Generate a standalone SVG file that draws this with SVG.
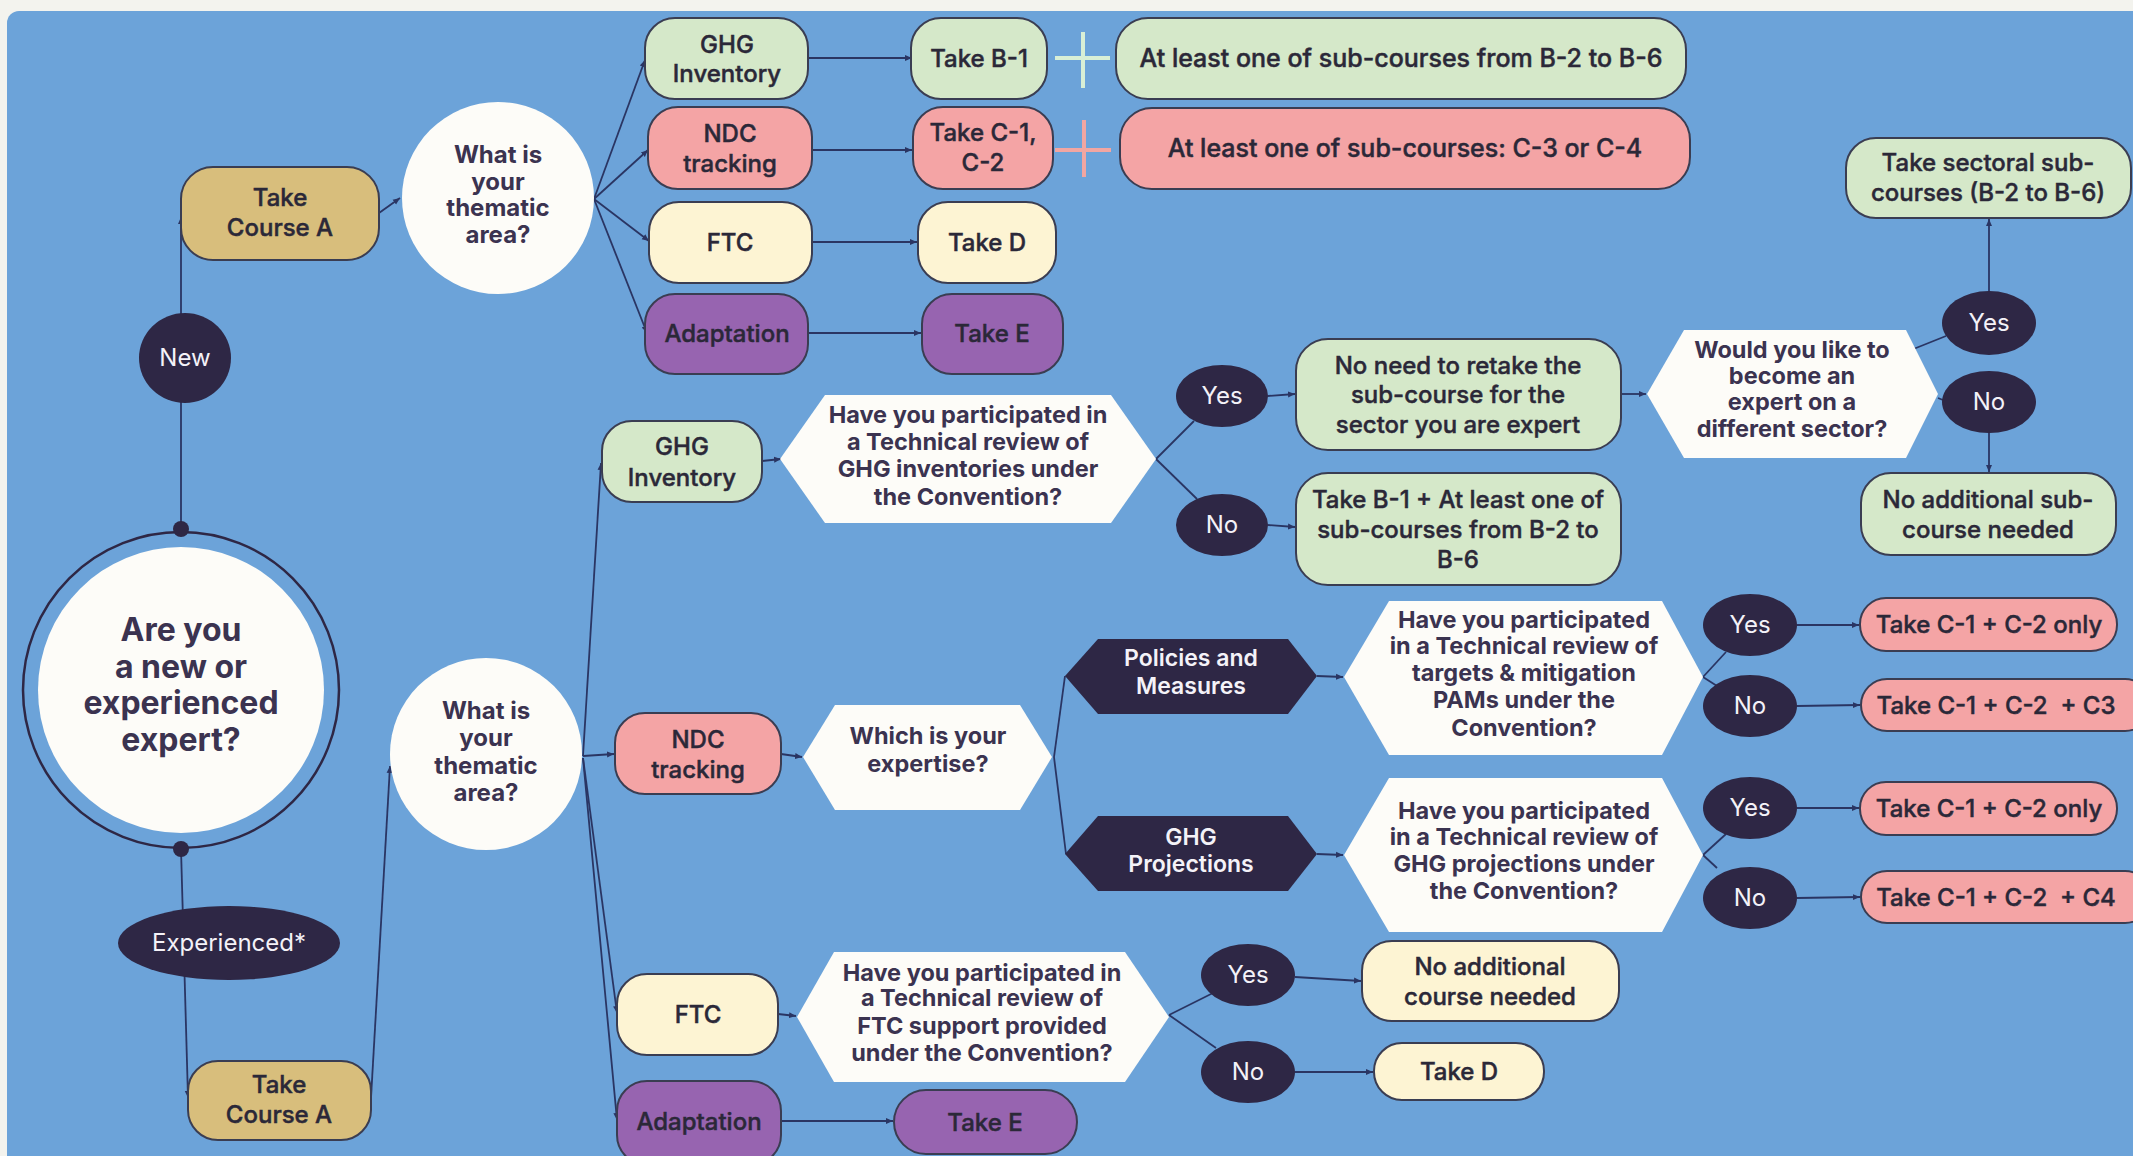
<svg xmlns="http://www.w3.org/2000/svg" width="2133" height="1156" viewBox="0 0 2133 1156">
<defs>
<style>
.box{stroke:#3a3d52;stroke-width:2}
.g{fill:#d5e8c9}.p{fill:#f4a4a5}.y{fill:#fdf4d3}.v{fill:#9764b0}.t{fill:#d8be7c}
.dk{fill:#2e2745}.wh{fill:#fdfcf8}
.lbl{font-family:Inter,"Liberation Sans",sans-serif;font-size:24px;font-weight:500;fill:#2b2838;stroke:#2b2838;stroke-width:0.45;text-anchor:middle}
.q{font-family:Inter,"Liberation Sans",sans-serif;font-size:23.5px;font-weight:700;fill:#3b3350;text-anchor:middle}
.big{font-family:Inter,"Liberation Sans",sans-serif;font-size:32px;font-weight:700;fill:#3b3350;text-anchor:middle}
.cq{font-family:Inter,"Liberation Sans",sans-serif;font-size:24px;font-weight:700;fill:#3b3350;text-anchor:middle}
.wt{font-family:Inter,"Liberation Sans",sans-serif;font-size:24px;font-weight:400;fill:#f4f2f8;text-anchor:middle}
.wb{font-family:Inter,"Liberation Sans",sans-serif;font-size:23px;font-weight:600;fill:#f4f2f8;text-anchor:middle}
.con{stroke:#2a3563;stroke-width:1.8;fill:none}
</style>
<marker id="arr" markerWidth="8" markerHeight="8" refX="7" refY="4" orient="auto" markerUnits="userSpaceOnUse"><path d="M0,1 L7,4 L0,7 z" fill="#2a3563"/></marker>
</defs>
<rect x="0" y="0" width="2133" height="1156" fill="#f3f3ee"/>
<rect x="7" y="11" width="2160" height="1180" rx="12" fill="#6ca3d9"/>

<g id="connectors">
<line class="con" x1="181" y1="528" x2="181" y2="217" marker-end="url(#arr)"/>
<line class="con" x1="379" y1="213" x2="400" y2="198" marker-end="url(#arr)"/>
<line class="con" x1="594" y1="199" x2="645" y2="60" marker-end="url(#arr)"/>
<line class="con" x1="594" y1="199" x2="648" y2="150" marker-end="url(#arr)"/>
<line class="con" x1="594" y1="199" x2="649" y2="241" marker-end="url(#arr)"/>
<line class="con" x1="594" y1="199" x2="647" y2="333" marker-end="url(#arr)"/>
<line class="con" x1="809" y1="58" x2="912" y2="58" marker-end="url(#arr)"/>
<line class="con" x1="812" y1="150" x2="912" y2="150" marker-end="url(#arr)"/>
<line class="con" x1="812" y1="242" x2="917" y2="242" marker-end="url(#arr)"/>
<line class="con" x1="809" y1="333" x2="921" y2="333" marker-end="url(#arr)"/>
<line class="con" x1="181" y1="849" x2="188" y2="1098" marker-end="url(#arr)"/>
<line class="con" x1="371" y1="1098" x2="390" y2="766" marker-end="url(#arr)"/>
<line class="con" x1="583" y1="756" x2="601" y2="463" marker-end="url(#arr)"/>
<line class="con" x1="583" y1="756" x2="614" y2="754" marker-end="url(#arr)"/>
<line class="con" x1="583" y1="758" x2="617" y2="1013" marker-end="url(#arr)"/>
<line class="con" x1="583" y1="758" x2="617" y2="1120" marker-end="url(#arr)"/>
<line class="con" x1="762" y1="461" x2="781" y2="459" marker-end="url(#arr)"/>
<line class="con" x1="1156" y1="459" x2="1194" y2="421"/>
<line class="con" x1="1156" y1="459" x2="1197" y2="499"/>
<line class="con" x1="1268" y1="396" x2="1295" y2="394" marker-end="url(#arr)"/>
<line class="con" x1="1268" y1="525" x2="1295" y2="527" marker-end="url(#arr)"/>
<line class="con" x1="1621" y1="394" x2="1646" y2="394" marker-end="url(#arr)"/>
<line class="con" x1="1906" y1="352" x2="1946" y2="336"/>
<line class="con" x1="1938" y1="398" x2="1943" y2="400"/>
<line class="con" x1="1989" y1="291" x2="1989" y2="219" marker-end="url(#arr)"/>
<line class="con" x1="1989" y1="433" x2="1989" y2="472" marker-end="url(#arr)"/>
<line class="con" x1="781" y1="754" x2="802" y2="757" marker-end="url(#arr)"/>
<line class="con" x1="1054" y1="757" x2="1065" y2="676"/>
<line class="con" x1="1054" y1="757" x2="1066" y2="854"/>
<line class="con" x1="1317" y1="676" x2="1343" y2="677" marker-end="url(#arr)"/>
<line class="con" x1="1317" y1="854" x2="1343" y2="855" marker-end="url(#arr)"/>
<line class="con" x1="1703" y1="677" x2="1726" y2="652"/>
<line class="con" x1="1703" y1="677" x2="1717" y2="686"/>
<line class="con" x1="1703" y1="855" x2="1726" y2="834"/>
<line class="con" x1="1703" y1="855" x2="1717" y2="868"/>
<line class="con" x1="1797" y1="625" x2="1859" y2="625" marker-end="url(#arr)"/>
<line class="con" x1="1797" y1="706" x2="1860" y2="705" marker-end="url(#arr)"/>
<line class="con" x1="1797" y1="808" x2="1859" y2="808" marker-end="url(#arr)"/>
<line class="con" x1="1797" y1="898" x2="1860" y2="897" marker-end="url(#arr)"/>
<line class="con" x1="778" y1="1014" x2="796" y2="1016" marker-end="url(#arr)"/>
<line class="con" x1="1169" y1="1015" x2="1213" y2="993"/>
<line class="con" x1="1169" y1="1015" x2="1216" y2="1048"/>
<line class="con" x1="1295" y1="977" x2="1361" y2="981" marker-end="url(#arr)"/>
<line class="con" x1="1295" y1="1072" x2="1373" y2="1072" marker-end="url(#arr)"/>
<line class="con" x1="781" y1="1121" x2="893" y2="1121" marker-end="url(#arr)"/>
</g>

<g id="start">
<circle cx="181" cy="690" r="158" fill="none" stroke="#2e2745" stroke-width="2.5"/>
<circle cx="181" cy="690" r="143" class="wh"/>
<circle cx="181" cy="529" r="8" class="dk"/>
<circle cx="181" cy="849" r="8" class="dk"/>
<text class="big" x="181" y="641">Are you</text>
<text class="big" x="181" y="678">a new or</text>
<text class="big" x="181" y="714">experienced</text>
<text class="big" x="181" y="751">expert?</text>
</g>
<g id="new"><ellipse cx="185" cy="358" rx="46" ry="45" class="dk"/><text class="wt" x="185" y="366">New</text></g>
<g id="experienced"><ellipse cx="229" cy="943" rx="111" ry="37" class="dk"/><text class="wt" x="229" y="951">Experienced*</text></g>

<g id="courseA1"><rect x="181" y="167" width="198" height="93" rx="32" class="box t"/><text class="lbl" x="280" y="206">Take</text><text class="lbl" x="280" y="236">Course A</text></g>
<g id="area1"><circle cx="498" cy="198" r="96" class="wh"/><text class="cq" x="498" y="163">What is</text><text class="cq" x="498" y="190">your</text><text class="cq" x="498" y="216">thematic</text><text class="cq" x="498" y="243">area?</text></g>
<g id="ghg1"><rect x="645" y="18" width="163" height="81" rx="30" class="box g"/><text class="lbl" x="727" y="53">GHG</text><text class="lbl" x="727" y="82">Inventory</text></g>
<g id="ndc1"><rect x="648" y="107" width="164" height="82" rx="30" class="box p"/><text class="lbl" x="730" y="142">NDC</text><text class="lbl" x="730" y="172">tracking</text></g>
<g id="ftc1"><rect x="649" y="202" width="163" height="81" rx="30" class="box y"/><text class="lbl" x="730" y="251">FTC</text></g>
<g id="adapt1"><rect x="645" y="294" width="163" height="80" rx="30" class="box v"/><text class="lbl" x="727" y="342">Adaptation</text></g>
<g id="takeB1"><rect x="911" y="18" width="136" height="81" rx="30" class="box g"/><text class="lbl" x="979" y="67">Take B-1</text></g>
<g id="takeC12"><rect x="913" y="107" width="140" height="82" rx="30" class="box p"/><text class="lbl" x="983" y="141">Take C-1,</text><text class="lbl" x="983" y="171">C-2</text></g>
<g id="takeD1"><rect x="918" y="202" width="138" height="81" rx="30" class="box y"/><text class="lbl" x="987" y="251">Take D</text></g>
<g id="takeE1"><rect x="922" y="294" width="141" height="80" rx="30" class="box v"/><text class="lbl" x="992" y="342">Take E</text></g>
<g id="plusB"><line x1="1083" y1="32" x2="1083" y2="88" stroke="#d8efd6" stroke-width="4"/><line x1="1055" y1="58" x2="1110" y2="58" stroke="#d8efd6" stroke-width="4"/></g>
<g id="plusC"><line x1="1084" y1="120" x2="1084" y2="177" stroke="#f2a6a2" stroke-width="4"/><line x1="1055" y1="150" x2="1111" y2="150" stroke="#f2a6a2" stroke-width="4"/></g>
<g id="leastB"><rect x="1116" y="18" width="570" height="81" rx="32" class="box g"/><text class="lbl" x="1401" y="67" style="font-size:25px">At least one of sub-courses from B-2 to B-6</text></g>
<g id="leastC"><rect x="1120" y="108" width="570" height="81" rx="32" class="box p"/><text class="lbl" x="1405" y="157" style="font-size:25px">At least one of sub-courses: C-3 or C-4</text></g>

<g id="courseA2"><rect x="188" y="1061" width="183" height="79" rx="30" class="box t"/><text class="lbl" x="279" y="1093">Take</text><text class="lbl" x="279" y="1123">Course A</text></g>
<g id="area2"><circle cx="486" cy="754" r="96" class="wh"/><text class="cq" x="486" y="719">What is</text><text class="cq" x="486" y="746">your</text><text class="cq" x="486" y="774">thematic</text><text class="cq" x="486" y="801">area?</text></g>

<g id="ghg2"><rect x="602" y="421" width="160" height="81" rx="30" class="box g"/><text class="lbl" x="682" y="455">GHG</text><text class="lbl" x="682" y="486">Inventory</text></g>
<g id="qghg"><polygon points="780,459 825,395 1111,395 1156,459 1111,523 825,523" class="wh"/><text class="q" x="968" y="423">Have you participated in</text><text class="q" x="968" y="450">a Technical review of</text><text class="q" x="968" y="477">GHG inventories under</text><text class="q" x="968" y="505">the Convention?</text></g>
<g id="yesG"><ellipse cx="1222" cy="396" rx="46" ry="31" class="dk"/><text class="wt" x="1222" y="404">Yes</text></g>
<g id="noG"><ellipse cx="1222" cy="525" rx="46" ry="31" class="dk"/><text class="wt" x="1222" y="533">No</text></g>
<g id="noNeed"><rect x="1296" y="339" width="325" height="111" rx="32" class="box g"/><text class="lbl" x="1458" y="374">No need to retake the</text><text class="lbl" x="1458" y="403">sub-course for the</text><text class="lbl" x="1458" y="433">sector you are expert</text></g>
<g id="takeB1plus"><rect x="1296" y="473" width="325" height="112" rx="32" class="box g"/><text class="lbl" x="1458" y="508">Take B-1 + At least one of</text><text class="lbl" x="1458" y="538">sub-courses from B-2 to</text><text class="lbl" x="1458" y="568">B-6</text></g>
<g id="qsector"><polygon points="1647,394 1684,330 1906,330 1938,394 1906,458 1684,458" class="wh"/><text class="q" x="1792" y="358">Would you like to</text><text class="q" x="1792" y="384">become an</text><text class="q" x="1792" y="410">expert on a</text><text class="q" x="1792" y="437">different sector?</text></g>
<g id="yesS"><ellipse cx="1989" cy="323" rx="47" ry="32" class="dk"/><text class="wt" x="1989" y="331">Yes</text></g>
<g id="noS"><ellipse cx="1989" cy="402" rx="47" ry="31" class="dk"/><text class="wt" x="1989" y="410">No</text></g>
<g id="sectoral"><rect x="1846" y="138" width="285" height="80" rx="30" class="box g"/><text class="lbl" x="1988" y="171">Take sectoral sub-</text><text class="lbl" x="1988" y="201">courses (B-2 to B-6)</text></g>
<g id="noAddSub"><rect x="1861" y="473" width="255" height="82" rx="30" class="box g"/><text class="lbl" x="1988" y="508">No additional sub-</text><text class="lbl" x="1988" y="538">course needed</text></g>

<g id="ndc2"><rect x="615" y="713" width="166" height="81" rx="30" class="box p"/><text class="lbl" x="698" y="748">NDC</text><text class="lbl" x="698" y="778">tracking</text></g>
<g id="qexp"><polygon points="803,757 835,705 1020,705 1052,757 1020,810 835,810" class="wh"/><text class="q" x="928" y="744">Which is your</text><text class="q" x="928" y="772">expertise?</text></g>
<g id="pams"><polygon points="1065,676 1098,639 1288,639 1317,676 1288,714 1098,714" class="dk"/><text class="wb" x="1191" y="666">Policies and</text><text class="wb" x="1191" y="694">Measures</text></g>
<g id="proj"><polygon points="1065,854 1098,816 1288,816 1317,854 1288,891 1098,891" class="dk"/><text class="wb" x="1191" y="845">GHG</text><text class="wb" x="1191" y="872">Projections</text></g>
<g id="qpams"><polygon points="1344,677 1389,601 1662,601 1703,677 1662,755 1389,755" class="wh"/><text class="q" x="1524" y="628">Have you participated</text><text class="q" x="1524" y="654">in a Technical review of</text><text class="q" x="1524" y="681">targets &amp; mitigation</text><text class="q" x="1524" y="708">PAMs under the</text><text class="q" x="1524" y="736">Convention?</text></g>
<g id="qproj"><polygon points="1344,855 1389,778 1662,778 1703,855 1662,932 1389,932" class="wh"/><text class="q" x="1524" y="819">Have you participated</text><text class="q" x="1524" y="845">in a Technical review of</text><text class="q" x="1524" y="872">GHG projections under</text><text class="q" x="1524" y="899">the Convention?</text></g>
<g id="yesP"><ellipse cx="1750" cy="625" rx="47" ry="31" class="dk"/><text class="wt" x="1750" y="633">Yes</text></g>
<g id="noP"><ellipse cx="1750" cy="706" rx="47" ry="31" class="dk"/><text class="wt" x="1750" y="714">No</text></g>
<g id="yesJ"><ellipse cx="1750" cy="808" rx="47" ry="31" class="dk"/><text class="wt" x="1750" y="816">Yes</text></g>
<g id="noJ"><ellipse cx="1750" cy="898" rx="47" ry="31" class="dk"/><text class="wt" x="1750" y="906">No</text></g>
<g id="c12a"><rect x="1860" y="598" width="257" height="53" rx="26" class="box p"/><text class="lbl" x="1989" y="633">Take C-1 + C-2 only</text></g>
<g id="c123"><rect x="1861" y="679" width="290" height="52" rx="26" class="box p"/><text class="lbl" x="1996" y="714" xml:space="preserve">Take C-1 + C-2  + C3</text></g>
<g id="c12b"><rect x="1860" y="782" width="257" height="53" rx="26" class="box p"/><text class="lbl" x="1989" y="817">Take C-1 + C-2 only</text></g>
<g id="c124"><rect x="1861" y="871" width="290" height="52" rx="26" class="box p"/><text class="lbl" x="1996" y="906" xml:space="preserve">Take C-1 + C-2  + C4</text></g>

<g id="ftc2"><rect x="617" y="974" width="161" height="81" rx="30" class="box y"/><text class="lbl" x="698" y="1023">FTC</text></g>
<g id="qftc"><polygon points="797,1017 834,952 1125,952 1169,1017 1125,1082 834,1082" class="wh"/><text class="q" x="982" y="981">Have you participated in</text><text class="q" x="982" y="1006">a Technical review of</text><text class="q" x="982" y="1034">FTC support provided</text><text class="q" x="982" y="1061">under the Convention?</text></g>
<g id="yesF"><ellipse cx="1248" cy="975" rx="47" ry="31" class="dk"/><text class="wt" x="1248" y="983">Yes</text></g>
<g id="noF"><ellipse cx="1248" cy="1072" rx="47" ry="31" class="dk"/><text class="wt" x="1248" y="1080">No</text></g>
<g id="noAddCourse"><rect x="1362" y="941" width="257" height="80" rx="30" class="box y"/><text class="lbl" x="1490" y="975">No additional</text><text class="lbl" x="1490" y="1005">course needed</text></g>
<g id="takeD2"><rect x="1374" y="1043" width="170" height="57" rx="28" class="box y"/><text class="lbl" x="1459" y="1080">Take D</text></g>
<g id="adapt2"><rect x="617" y="1081" width="164" height="84" rx="30" class="box v"/><text class="lbl" x="699" y="1130">Adaptation</text></g>
<g id="takeE2"><rect x="894" y="1090" width="183" height="64" rx="32" class="box v"/><text class="lbl" x="985" y="1131">Take E</text></g>
</svg>
